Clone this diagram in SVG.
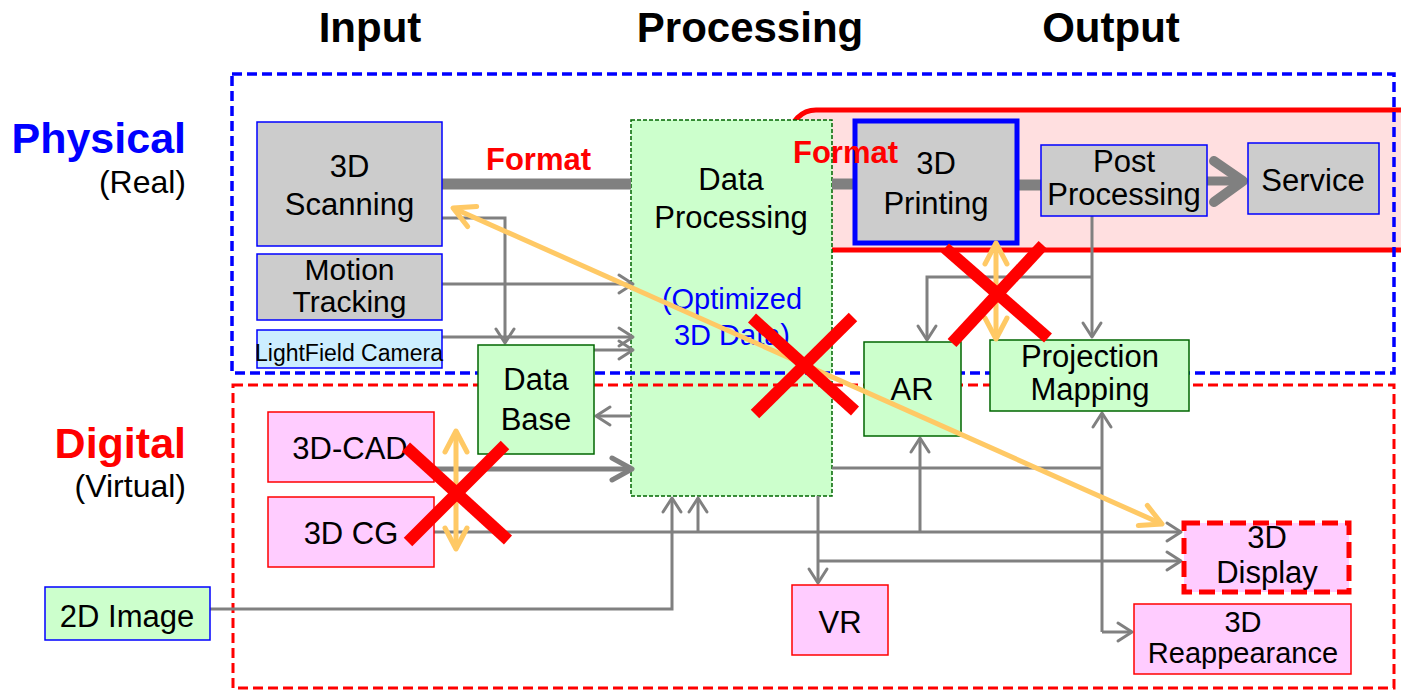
<svg xmlns="http://www.w3.org/2000/svg" width="1401" height="691" viewBox="0 0 1401 691">
  <style>
    text { font-family: "Liberation Sans", Arial, sans-serif; fill: #000; }
    .hdr { font-size: 42px; font-weight: bold; text-anchor: middle; }
    .side { font-size: 43px; font-weight: bold; text-anchor: end; }
    .sub { font-size: 32px; text-anchor: end; }
    .lbl { font-size: 31px; text-anchor: middle; }
    .fmt { font-size: 31px; font-weight: bold; fill: #ff0000; }
    .gray { fill: #cccccc; stroke: #0000ff; stroke-width: 1.5; }
    .green { fill: #ccffcc; stroke: #006600; stroke-width: 1.5; }
    .pink { fill: #ffccff; stroke: #ff0000; stroke-width: 1.5; }
    .conn path { fill: none; stroke: #808080; stroke-width: 3; }
    .conn path.arr { marker-end: url(#ah); }
    .thick { fill: none; stroke: #808080; stroke-width: 11; }
    .yel { fill: none; stroke: #ffc965; stroke-width: 5; }
    .cross line { stroke: #ff0000; stroke-width: 12; }
  </style>
  <defs>
    <marker id="ah" markerUnits="userSpaceOnUse" markerWidth="20" markerHeight="22" refX="0" refY="0" orient="auto" overflow="visible">
      <path d="M-14,-9 L0,0 L-14,9" fill="none" stroke="#808080" stroke-width="3" stroke-linecap="round" stroke-linejoin="round"/>
    </marker>
    <marker id="ahB" markerUnits="userSpaceOnUse" markerWidth="26" markerHeight="26" refX="0" refY="0" orient="auto" overflow="visible">
      <path d="M-20,-11 L0,0 L-20,11" fill="none" stroke="#808080" stroke-width="5" stroke-linecap="round" stroke-linejoin="round"/>
    </marker>
    <marker id="ahY" markerUnits="userSpaceOnUse" markerWidth="26" markerHeight="26" refX="0" refY="0" orient="auto-start-reverse" overflow="visible">
      <path d="M-21,-11 L0,0 L-21,11" fill="none" stroke="#ffc965" stroke-width="5" stroke-linecap="round" stroke-linejoin="round"/>
    </marker>
  </defs>

  <!-- column headers -->
  <text class="hdr" x="370" y="42">Input</text>
  <text class="hdr" x="750" y="42">Processing</text>
  <text class="hdr" x="1111" y="42">Output</text>

  <!-- row labels -->
  <text class="side" x="186" y="153" style="fill:#0000ff">Physical</text>
  <text class="sub" x="186" y="193">(Real)</text>
  <text class="side" x="186" y="458" style="fill:#ff0000">Digital</text>
  <text class="sub" x="186" y="497">(Virtual)</text>

  <!-- fabrication band behind 3D printing chain -->
  <rect x="790" y="110" width="700" height="140" rx="26" fill="#ffdfe0" stroke="#ff0000" stroke-width="5"/>

  <g id="data-processing">
    <rect x="631" y="120" width="201" height="376" fill="#ccffcc" stroke="#006600" stroke-width="1.5" stroke-dasharray="4 2"/>
    <text class="lbl" x="731" y="190">Data</text>
    <text class="lbl" x="731" y="228">Processing</text>
    <text class="lbl" x="732" y="309" style="fill:#0000ff;font-size:29px">(Optimized</text>
    <text class="lbl" x="732" y="345" style="fill:#0000ff;font-size:29px">3D Data)</text>
  </g>

  <!-- physical / digital regions -->
  <rect x="232" y="74" width="1162" height="299" fill="none" stroke="#0000ff" stroke-width="3.5" stroke-dasharray="10 5"/>
  <rect x="233" y="385" width="1161" height="303" fill="none" stroke="#ff0000" stroke-width="3" stroke-dasharray="10 5"/>

  <g id="connectors">
    <path class="thick" d="M442,184 H631"/>
    <path class="thick" d="M832,184 H854"/>
    <path class="thick" d="M1018,185 H1041"/>
    <path d="M1207,181 H1238" fill="none" stroke="#808080" stroke-width="9"/>
    <path d="M1214,161 L1243,181 L1214,202" fill="none" stroke="#808080" stroke-width="10" stroke-linecap="round" stroke-linejoin="round"/>
    <g class="conn">
      <path class="arr" d="M442,218 H505 V343"/>
      <path class="arr" d="M442,284 H633"/>
      <path class="arr" d="M442,337 H633"/>
      <path class="arr" d="M594,350 H633"/>
      <path class="arr" d="M631,416 H596"/>
      <path d="M434,469 H632" style="stroke-width:5;marker-end:url(#ahB)"/>
      <path class="arr" d="M434,532 H1181"/>
      <path class="arr" d="M698,532 V498"/>
      <path class="arr" d="M920,532 V438"/>
      <path class="arr" d="M210,609 H672 V498"/>
      <path class="arr" d="M818,496 V583"/>
      <path class="arr" d="M818,561 H1181"/>
      <path d="M832,468 H1102"/>
      <path class="arr" d="M1102,632 V413"/>
      <path class="arr" d="M1102,632 H1132"/>
      <path class="arr" d="M1092,216 V337"/>
      <path class="arr" d="M1092,277 H927 V340"/>
    </g>
  </g>

  <g id="scanning">
    <rect class="gray" x="257" y="122" width="185" height="124"/>
    <text class="lbl" x="349.5" y="177">3D</text>
    <text class="lbl" x="349.5" y="215">Scanning</text>
  </g>
  <g id="motion-tracking">
    <rect class="gray" x="257" y="254" width="185" height="66"/>
    <text class="lbl" x="349.5" y="280" style="font-size:30px">Motion</text>
    <text class="lbl" x="349.5" y="312" style="font-size:30px">Tracking</text>
  </g>
  <g id="lightfield-camera">
    <rect x="257" y="330" width="185" height="38" fill="#cceeff" stroke="#0000ff" stroke-width="1.5"/>
    <text x="255" y="361" style="font-size:23px">LightField Camera</text>
  </g>
  <g id="database">
    <rect class="green" x="478" y="345" width="116" height="109"/>
    <text class="lbl" x="536" y="390">Data</text>
    <text class="lbl" x="536" y="430">Base</text>
  </g>
  <g id="cad">
    <rect class="pink" x="268" y="412" width="166" height="70"/>
    <text class="lbl" x="350" y="459">3D-CAD</text>
  </g>
  <g id="cg">
    <rect class="pink" x="268" y="497" width="166" height="70"/>
    <text class="lbl" x="351" y="544">3D CG</text>
  </g>
  <g id="image-2d">
    <rect x="45" y="587" width="165" height="53" fill="#ccffcc" stroke="#0000ff" stroke-width="1.5"/>
    <text class="lbl" x="127" y="627">2D Image</text>
  </g>
  <g id="printing">
    <rect x="855" y="121" width="162" height="122" fill="#cccccc" stroke="#0000ff" stroke-width="5"/>
    <text class="lbl" x="936" y="174">3D</text>
    <text class="lbl" x="936" y="214">Printing</text>
  </g>
  <g id="post-processing">
    <rect class="gray" x="1041" y="145" width="166" height="71"/>
    <text class="lbl" x="1124" y="172">Post</text>
    <text class="lbl" x="1124" y="205">Processing</text>
  </g>
  <g id="service">
    <rect class="gray" x="1248" y="143" width="131" height="71"/>
    <text class="lbl" x="1313" y="191">Service</text>
  </g>
  <g id="ar">
    <rect class="green" x="864" y="342" width="97" height="94"/>
    <text class="lbl" x="912" y="400">AR</text>
  </g>
  <g id="projection-mapping">
    <rect class="green" x="990" y="340" width="199" height="71"/>
    <text class="lbl" x="1090" y="367">Projection</text>
    <text class="lbl" x="1090" y="400">Mapping</text>
  </g>
  <g id="vr">
    <rect class="pink" x="792" y="585" width="96" height="70"/>
    <text class="lbl" x="840" y="633">VR</text>
  </g>
  <g id="display-3d">
    <rect x="1184" y="523" width="165" height="69" fill="#ffccff" stroke="#ff0000" stroke-width="5" stroke-dasharray="16 7"/>
    <text class="lbl" x="1267" y="548">3D</text>
    <text class="lbl" x="1267" y="583">Display</text>
  </g>
  <g id="reappearance-3d">
    <rect class="pink" x="1134" y="604" width="217" height="70"/>
    <text class="lbl" x="1243" y="632" style="font-size:29px">3D</text>
    <text class="lbl" x="1243" y="663" style="font-size:29px">Reappearance</text>
  </g>

  <!-- format conversion labels -->
  <text class="fmt" x="486" y="170">Format</text>
  <text class="fmt" x="793" y="163">Format</text>

  <!-- two-way links -->
  <g id="links">
    <path class="yel" d="M453,208 L1162,524" style="marker-start:url(#ahY);marker-end:url(#ahY)"/>
    <path class="yel" d="M456,431 V549" style="marker-start:url(#ahY);marker-end:url(#ahY)"/>
    <path class="yel" d="M996,243 V339" style="marker-start:url(#ahY);marker-end:url(#ahY)"/>
  </g>

  <!-- crossed-out links -->
  <g class="cross">
    <line x1="406" y1="447" x2="508" y2="540"/>
    <line x1="408" y1="542" x2="505" y2="445"/>
    <line x1="752" y1="318" x2="855" y2="411"/>
    <line x1="853" y1="317" x2="755" y2="414"/>
    <line x1="945" y1="248" x2="1048" y2="338"/>
    <line x1="1043" y1="245" x2="952" y2="343"/>
  </g>
</svg>
